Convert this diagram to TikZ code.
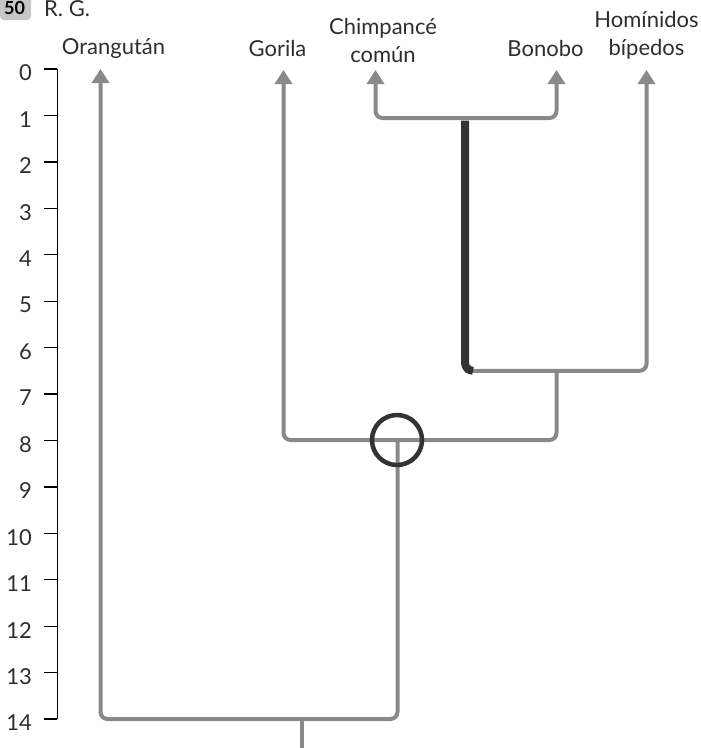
\documentclass[tikz,border=0pt]{standalone}
\usepackage{fontspec}
\setmainfont{Lato}
\newfontfamily\badgefont{Lato}
\usetikzlibrary{arrows.meta}
\definecolor{branchgray}{HTML}{898989}
\definecolor{darkline}{HTML}{333333}
\definecolor{badgegray}{HTML}{C6C6C6}
\definecolor{inkcol}{HTML}{2E2E2E}

\begin{document}
\begin{tikzpicture}[x=1pt,y=-1pt,
  branch/.style={draw=branchgray,line width=4pt,rounded corners=7pt},
  tip/.style={-{Triangle[width=17pt,length=14pt]}},
  bothtips/.style={{Triangle[width=17pt,length=14pt]}-{Triangle[width=17pt,length=14pt]}},
  lineage/.style={draw=darkline,line width=8pt,rounded corners=8pt},
  focusring/.style={circle,draw=darkline,line width=4.5pt,minimum size=50pt,inner sep=0pt},
  taxon/.style={font=\fontsize{22}{27.5}\selectfont,text=inkcol,inner sep=0pt,anchor=base,align=center},
  agelabel/.style={font=\fontsize{22}{26}\selectfont,text=inkcol,inner sep=0pt,anchor=east},
  axis/.style={draw=black,line width=1.3pt},
  badge/.style={fill=badgegray,rounded corners=4pt,minimum width=31pt,minimum height=26pt,inner sep=0pt},
  badgetext/.style={font=\badgefont\bfseries\fontsize{18}{21}\selectfont,text=black,inner sep=0pt,anchor=base},
]
\useasboundingbox (0,0) rectangle (701,748);

% header
\node[badge] (badge) at (15.5,7) {};
\node[badgetext] (issue) at (14.5,14.5) {50};
\node[font=\fontsize{22}{26}\selectfont,text=inkcol,inner sep=0pt,anchor=base west] (author) at (44,16.5) {R. G.};

% time axis (millions of years)
\foreach \k in {0,...,14} {
  \coordinate (t\k) at (57.3,{69+46.43*\k});
  \draw[axis] (t\k) -- ([xshift=-13.5pt]t\k);
  \node[agelabel] (age\k) at (32,{73+46.43*\k}) {\k};
}
\draw[axis] (t0) -- (t14);

% branching points and tips
\coordinate (root) at (301.5,748);
\coordinate (n14) at (301.5,719);
\coordinate (n8) at (397.5,440);
\coordinate (n65) at (556.5,370.8);
\coordinate (nc) at (465,118);
\coordinate (ncdark) at (465,120.5);
\coordinate (tipO) at (100.5,69);
\coordinate (tipG) at (283.5,70);
\coordinate (tipC) at (375.5,70);
\coordinate (tipB) at (556.5,70);
\coordinate (tipH) at (646.5,70);

% tree
\draw[branch] (root) -- (n14);
\draw[branch,tip] (n8) |- (n14) -| (tipO);
\draw[branch,tip] (n65) |- (n8) -| (tipG);
\draw[branch,tip] (nc |- n65) -| (tipH);
\draw[branch,bothtips] (tipC) |- (nc) -| (tipB);
\draw[lineage] (ncdark) -- (nc |- n65) -- ++(8,0);
\node[focusring] (focus) at (397,440) {};

% taxa (base anchor of a two-line label sits on its last line)
\node[taxon] (orangutan) at (113.5,54.5) {Orangután};
\node[taxon] (gorila) at (277.5,56.5) {Gorila};
\node[taxon] (chimp) at (383,62) {Chimpancé\\común};
\node[taxon] (bonobo) at (545.5,56.5) {Bonobo};
\node[taxon] (hominids) at (646.5,55) {Homínidos\\bípedos};
\end{tikzpicture}
\end{document}
